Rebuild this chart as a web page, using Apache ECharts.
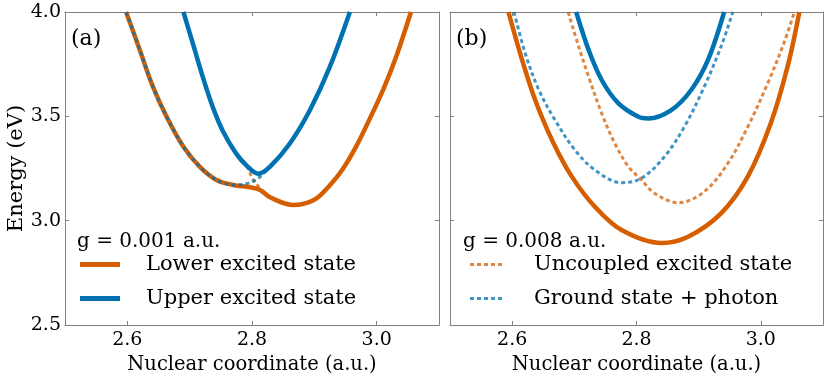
<!DOCTYPE html>
<html>
<head>
<meta charset="utf-8">
<script src="https://cdn.jsdelivr.net/npm/echarts@6/dist/echarts.min.js"></script>
<style>
  html, body { margin: 0; padding: 0; background: #fff; }
  #chart { width: 830px; height: 381px; }
</style>
</head>
<body>
<div id="chart"></div>
<script>
const xTicks = [2.6, 2.8, 3.0]
const yTicks = [2.5, 3.0, 3.5, 4.0]
const couplings = ['g = 0.001 a.u.', 'g = 0.008 a.u.']
const panelLabels = ['(a)', '(b)']

// panel (a): polariton curves, g = 0.001
const lowerA = [
  [2.598, 4.0], [2.620, 3.818], [2.641, 3.642], [2.663, 3.498], [2.690, 3.354],
  [2.716, 3.259], [2.743, 3.195], [2.770, 3.171], [2.797, 3.160], [2.813, 3.147],
  [2.829, 3.112], [2.866, 3.075], [2.900, 3.100], [2.925, 3.170], [2.946, 3.249],
  [2.968, 3.361], [2.989, 3.489], [3.011, 3.632], [3.032, 3.792], [3.055, 4.0],
]
const upperA = [
  [2.690, 4.0], [2.706, 3.840], [2.722, 3.680], [2.738, 3.537], [2.754, 3.425],
  [2.775, 3.320], [2.791, 3.265], [2.810, 3.225], [2.829, 3.259], [2.861, 3.371],
  [2.893, 3.530], [2.925, 3.738], [2.957, 4.0],
]
// panel (a): uncoupled curves, mostly hidden under the polariton curves
const uncoupledExcitedA = [
  [2.690, 4.0], [2.706, 3.840], [2.722, 3.680], [2.738, 3.537], [2.754, 3.425],
  [2.775, 3.320], [2.791, 3.265], [2.803, 3.192], [2.829, 3.112], [2.866, 3.075],
  [2.900, 3.100], [2.925, 3.170], [2.946, 3.249], [2.968, 3.361], [2.989, 3.489],
  [3.011, 3.632], [3.032, 3.792], [3.055, 4.0],
]
const groundPhotonA = [
  [2.598, 4.0], [2.620, 3.818], [2.641, 3.642], [2.663, 3.498], [2.690, 3.354],
  [2.716, 3.259], [2.743, 3.195], [2.770, 3.171], [2.803, 3.190], [2.829, 3.259],
  [2.861, 3.371], [2.893, 3.530], [2.925, 3.738], [2.957, 4.0],
]

// panel (b): polariton curves, g = 0.008
const lowerB = [
  [2.594, 4.0], [2.616, 3.770], [2.637, 3.578], [2.664, 3.387], [2.696, 3.211],
  [2.733, 3.067], [2.776, 2.955], [2.840, 2.893], [2.883, 2.923],
  [2.936, 3.035], [2.979, 3.211], [3.016, 3.467], [3.043, 3.738], [3.062, 4.0],
]
const upperB = [
  [2.703, 4.0], [2.723, 3.818], [2.744, 3.674], [2.771, 3.562], [2.803, 3.498],
  [2.819, 3.490], [2.856, 3.530], [2.888, 3.626], [2.915, 3.770], [2.941, 4.0],
]
// panel (b): uncoupled curves
const uncoupledExcitedB = [
  [2.690, 4.0], [2.707, 3.834], [2.723, 3.690], [2.744, 3.514], [2.765, 3.371],
  [2.787, 3.259], [2.808, 3.195], [2.829, 3.131], [2.867, 3.086], [2.909, 3.139],
  [2.947, 3.275], [2.979, 3.450], [3.011, 3.658], [3.037, 3.850], [3.054, 4.0],
]
const groundPhotonB = [
  [2.603, 4.0], [2.621, 3.802], [2.643, 3.626], [2.669, 3.482], [2.701, 3.339],
  [2.733, 3.243], [2.776, 3.182], [2.808, 3.203], [2.845, 3.307], [2.877, 3.450],
  [2.909, 3.642], [2.936, 3.834], [2.955, 4.0],
]

const ORANGE = '#d55e00'
const BLUE = '#0072b2'
const FONT = 'DejaVu Serif'
const AXIS_GRAY = '#808080'

// legend swatches: a plain bar for solid curves, a row of short bars for dashed ones
const SOLID_ICON = 'rect'
const DASH_ICON = 'path://M0,0h4v3h-4z M7,0h4v3h-4z M14,0h4v3h-4z M21,0h4v3h-4z M28,0h4v3h-4z'

const chart = echarts.init(document.getElementById('chart'))

function xAxes(gridIndex) {
  const tick = { show: true, inside: true, length: 4, customValues: xTicks, lineStyle: { color: AXIS_GRAY } }
  return [
    {
      type: 'value', gridIndex, min: 2.5, max: 3.1, position: 'bottom',
      axisLine: { lineStyle: { color: AXIS_GRAY, width: 1 } },
      axisTick: tick,
      axisLabel: { customValues: xTicks, formatter: (v) => v.toFixed(1), color: '#000', fontFamily: FONT, fontSize: 19, margin: 6 },
      splitLine: { show: false },
      name: 'Nuclear coordinate (a.u.)',
      nameLocation: 'middle', nameGap: 29,
      nameTextStyle: { color: '#000', fontFamily: FONT, fontSize: 19.5 },
    },
    {
      type: 'value', gridIndex, min: 2.5, max: 3.1, position: 'top',
      axisLine: { lineStyle: { color: AXIS_GRAY, width: 1 } },
      axisTick: tick, axisLabel: { show: false }, splitLine: { show: false },
    },
  ]
}

function yAxes(gridIndex, showLabels) {
  const tick = { show: true, inside: true, length: 4, lineStyle: { color: AXIS_GRAY } }
  return [
    {
      type: 'value', gridIndex, min: yTicks[0], max: yTicks[yTicks.length - 1], interval: 0.5, position: 'left',
      axisLine: { show: true, lineStyle: { color: AXIS_GRAY, width: 1 } },
      axisTick: tick,
      axisLabel: { show: showLabels, formatter: (v) => v.toFixed(1), color: '#000', fontFamily: FONT, fontSize: 19, margin: 4 },
      splitLine: { show: false },
      name: showLabels ? 'Energy (eV)' : '',
      nameLocation: 'middle', nameGap: 38,
      nameTextStyle: { color: '#000', fontFamily: FONT, fontSize: 21 },
    },
    {
      type: 'value', gridIndex, min: yTicks[0], max: yTicks[yTicks.length - 1], interval: 0.5, position: 'right',
      axisLine: { show: true, lineStyle: { color: AXIS_GRAY, width: 1 } },
      axisTick: tick, axisLabel: { show: false }, splitLine: { show: false },
    },
  ]
}

function solid(name, data, color, idx, z) {
  return {
    name, type: 'line', data, xAxisIndex: idx * 2, yAxisIndex: idx * 2,
    smooth: 0.35, symbol: 'none', z,
    lineStyle: { color, width: 4.5 }, itemStyle: { color },
  }
}

function dashed(name, data, color, idx, z) {
  return {
    name, type: 'line', data, xAxisIndex: idx * 2, yAxisIndex: idx * 2,
    smooth: 0.35, symbol: 'none', z,
    lineStyle: { color, width: 3, type: [4, 3], opacity: 0.75 }, itemStyle: { color, opacity: 0.75 },
  }
}

const legendText = { color: '#000', fontFamily: FONT, fontSize: 21, padding: [0, 0, 0, 21] }
const titleText = { fontFamily: FONT, fontSize: 21, fontWeight: 'normal', color: '#000' }

chart.setOption({
  animation: false,
  grid: [
    { left: 65, right: 391, top: 12, bottom: 56 },
    { left: 450, right: 7, top: 12, bottom: 56 },
  ],
  xAxis: [...xAxes(0), ...xAxes(1)],
  yAxis: [...yAxes(0, true), ...yAxes(1, false)],
  title: [
    { text: panelLabels[0], left: 71, top: 28, padding: 0, textStyle: { ...titleText, fontSize: 22 } },
    { text: panelLabels[1], left: 456, top: 28, padding: 0, textStyle: { ...titleText, fontSize: 22 } },
    { text: couplings[0], left: 77, top: 232, padding: 0, textStyle: { ...titleText, fontSize: 20 } },
    { text: couplings[1], left: 463, top: 232, padding: 0, textStyle: { ...titleText, fontSize: 20 } },
  ],
  legend: [
    {
      data: [
        { name: 'Lower excited state', icon: SOLID_ICON },
        { name: 'Upper excited state', icon: SOLID_ICON },
      ],
      orient: 'vertical', left: 80, top: 254, itemWidth: 40, itemHeight: 5, itemGap: 13,
      selectedMode: false, textStyle: legendText, padding: 0,
    },
    {
      data: [
        { name: 'Uncoupled excited state', icon: DASH_ICON },
        { name: 'Ground state + photon', icon: DASH_ICON },
      ],
      orient: 'vertical', left: 470, top: 254, itemWidth: 32, itemHeight: 3, itemGap: 13,
      selectedMode: false, textStyle: { ...legendText, padding: [0, 0, 0, 27] }, padding: 0,
    },
  ],
  series: [
    dashed('Uncoupled excited state', uncoupledExcitedA, ORANGE, 0, 1),
    solid('Lower excited state', lowerA, ORANGE, 0, 2),
    dashed('Ground state + photon', groundPhotonA, BLUE, 0, 3),
    solid('Upper excited state', upperA, BLUE, 0, 4),

    solid('Lower excited state', lowerB, ORANGE, 1, 2),
    solid('Upper excited state', upperB, BLUE, 1, 2),
    dashed('Uncoupled excited state', uncoupledExcitedB, ORANGE, 1, 3),
    dashed('Ground state + photon', groundPhotonB, BLUE, 1, 3),
  ],
})
</script>
</body>
</html>
